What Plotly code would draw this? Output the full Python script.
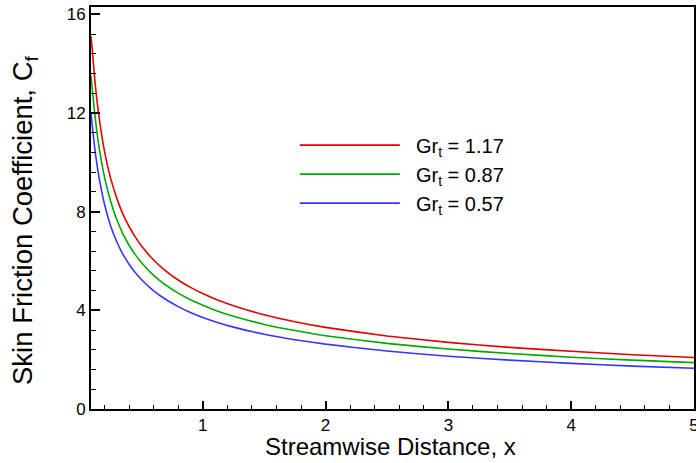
import plotly.graph_objects as go

x_vals = [0.09, 0.1, 0.12, 0.15, 0.2, 0.25, 0.3, 0.35, 0.4, 0.45, 0.5, 0.6, 0.7, 0.8, 0.9, 1.0,
          1.1, 1.25, 1.5, 1.75, 2.0, 2.5, 3.0, 3.5, 4.0, 4.5, 5.0]
cf_gr117 = [15.1, 14.6, 13.4, 12.05, 10.45, 9.35, 8.55, 7.9, 7.4, 6.98, 6.62, 6.04, 5.59, 5.23, 4.93, 4.68,
            4.46, 4.19, 3.82, 3.54, 3.31, 2.96, 2.7, 2.5, 2.34, 2.2, 2.09]
cf_gr087 = [13.5, 13.0, 12.0, 10.8, 9.4, 8.42, 7.68, 7.1, 6.64, 6.26, 5.94, 5.42, 5.02, 4.7, 4.43, 4.21,
            4.0, 3.76, 3.43, 3.18, 2.97, 2.66, 2.43, 2.25, 2.1, 1.98, 1.88]
cf_gr057 = [12.0, 11.5, 10.6, 9.55, 8.3, 7.42, 6.78, 6.27, 5.87, 5.53, 5.25, 4.79, 4.44, 4.15, 3.91, 3.71,
            3.54, 3.32, 3.03, 2.81, 2.63, 2.35, 2.14, 1.98, 1.85, 1.74, 1.65]
series_names = ["&nbsp;&nbsp;Gr<sub>t</sub> = 1.17", "&nbsp;&nbsp;Gr<sub>t</sub> = 0.87",
                "&nbsp;&nbsp;Gr<sub>t</sub> = 0.57"]
series_colors = ["#e00000", "#00a800", "#3535ff"]
x_ticks = [1, 2, 3, 4, 5]
y_ticks = [0, 4, 8, 12, 16]
x_title = "Streamwise Distance, x"
y_title = "Skin Friction Coefficient, C<sub>f</sub>"

FONT = "Liberation Sans, Arial, sans-serif"

fig = go.Figure()
for name, ys, col in zip(series_names, [cf_gr117, cf_gr087, cf_gr057], series_colors):
    fig.add_trace(go.Scatter(x=x_vals, y=ys, mode="lines", name=name,
                             line=dict(color=col, width=1.6, shape="spline", smoothing=0.5)))

fig.update_layout(
    width=696, height=463,
    margin=dict(l=91, r=2, t=7, b=54),
    paper_bgcolor="white", plot_bgcolor="white",
    font=dict(family=FONT, color="black"),
    showlegend=True,
    legend=dict(x=0.338, y=0.705, xanchor="left", yanchor="top",
                bgcolor="rgba(0,0,0,0)", font=dict(size=20, family=FONT),
                itemwidth=100, tracegroupgap=0),
    xaxis=dict(range=[0.09, 5.0], tickvals=x_ticks, ticks="inside", ticklen=8,
               tickwidth=1.5, tickcolor="black", showgrid=False, zeroline=False,
               showline=True, linecolor="black", linewidth=2, mirror=True,
               tickfont=dict(size=17), automargin=False, ticklabeloverflow="allow",
               minor=dict(ticks="inside", dtick=0.2, tick0=0, ticklen=4, tickwidth=1, tickcolor="black", showgrid=False)),
    yaxis=dict(range=[0, 16.3], tickvals=y_ticks, ticks="inside", ticklen=9,
               tickwidth=1.5, tickcolor="black", showgrid=False, zeroline=False,
               showline=True, linecolor="black", linewidth=2, mirror=True,
               tickfont=dict(size=17), automargin=False, ticklabeloverflow="allow",
               minor=dict(ticks="inside", dtick=0.8, tick0=0, ticklen=5, tickwidth=1, tickcolor="black", showgrid=False)),
    annotations=[
        dict(text=x_title, xref="paper", yref="paper", x=0.5, y=0,
             xanchor="center", yanchor="middle", xshift=-2, yshift=-37, showarrow=False,
             font=dict(size=24, family=FONT)),
        dict(text=y_title, xref="paper", yref="paper", x=0, y=0.5, textangle=-90,
             xanchor="center", yanchor="middle", xshift=-67, yshift=-12, showarrow=False,
             font=dict(size=27.5, family=FONT)),
    ],
)

fig.write_html("out.html", config={"displayModeBar": False},
               post_script="document.body.style.margin='0';")
